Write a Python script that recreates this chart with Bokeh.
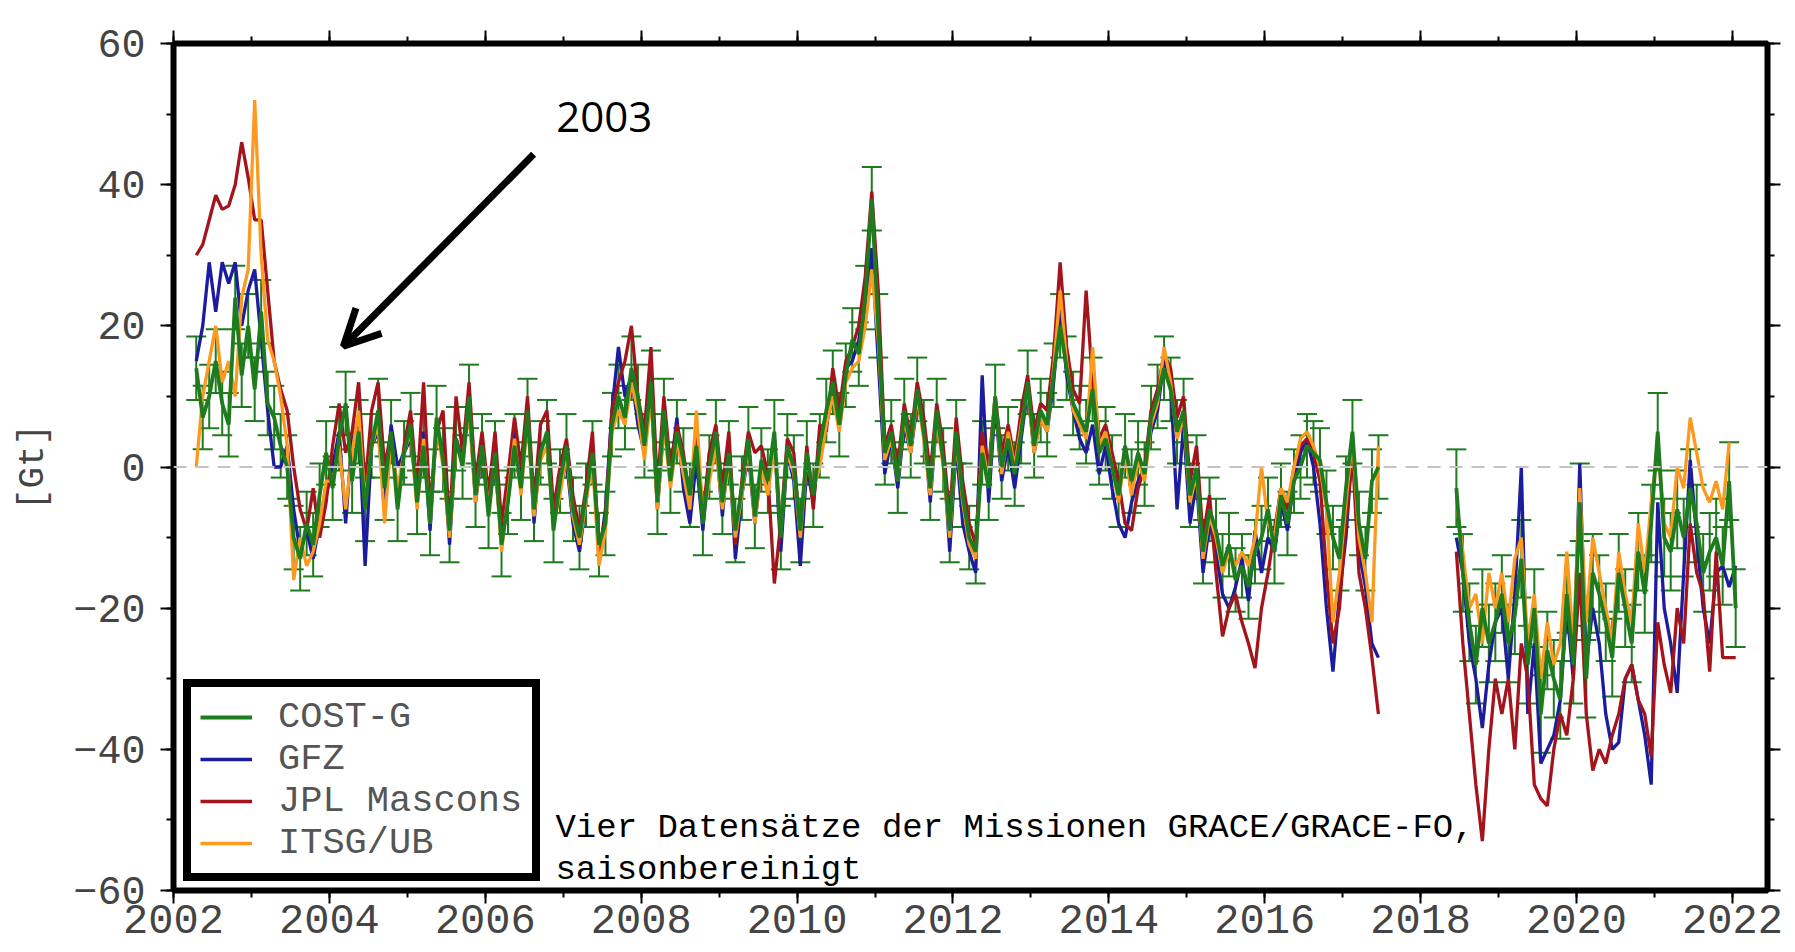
import numpy as np
from bokeh.plotting import figure
from bokeh.models import (ColumnDataSource, Whisker, TeeHead, Span, Arrow, OpenHead, Label,
                          Legend, LegendItem, SingleIntervalTicker, LinearAxis,
                          CustomJSTickFormatter, Range1d)
from bokeh.embed import file_html
from bokeh.resources import INLINE

# ---------------- data (Gt, seasonally adjusted, monthly) ----------------
# segment 1: 2002-04 .. 2017-06 (GRACE), segment 2: 2018-06 .. 2022-01 (GRACE-FO)
seg1_start, seg1_end = "2002-04", "2017-06"
seg2_start, seg2_end = "2018-06", "2022-01"
seg2_end_itsg = "2021-12"

cost_g_1 = [14, 7, 10, 15, 9, 6, 24, 13, 20,
            11, 22, 9, 7, 3, 0, -10, -13, -8, -11, -4, 2,
            -3, 4, 9, -2, 5, -6, 3, 8, -3, 5, -6, 2,
            6, -5, 3, -8, 7, 1, -9, 4, 0, 10, -4, 3,
            -7, 2, -11, -5, 3, -3, 8, -6, 2, 5, -9, -2,
            3, -6, -10, -4, 2, -11, -8, 6, 10, 7, 14, 10,
            3, 12, -5, 8, -2, 5, 1, -4, 3, -8, 0, 5,
            -5, 2, -9, -3, 4, -7, 1, -2, 5, -10, 3, 0,
            -9, 2, -4, 3, 8, 12, 6, 13, 18, 16, 24, 38,
            20, 2, 5, -2, 8, 3, 11, 5, -3, 8, 1, -9,
            5, -4, -10, -12, 2, -3, 10, 0, 4, -1, 5, 12,
            3, 8, 6, 13, 20, 14, 9, 7, 5, 11, 2, 4,
            0, -4, 3, -2, 2, -1, 7, 10, 14, 11, 5, 8,
            -4, 0, -12, -6, -9, -14, -11, -16, -14, -17, -12, -10,
            -6, -12, -4, -8, -2, 0, 3, 2, 1, -5, -10, -13,
            -3, 5, -8, -13, -2, 0]
cost_g_2 = [-3, -15, -22, -28, -20, -25, -22,
            -18, -25, -21, -13, -28, -20, -35, -26, -30, -33, -18, -28,
            -5, -30, -15, -18, -22, -27, -15, -20, -25, -12, -18, -8,
            5, -10, -12, -6, -10, -3, -8, -15, -12, -10, -14, -2,
            -20]

gfz_1 = [15, 20, 29, 22, 29, 26, 29, 20, 25,
         28, 18, 8, 0, 0, 3, -6, -12, -9, -13, -8, -4,
         0, 5, -8, 4, 7, -14, 3, 5, -5, 6, 0, 2,
         4, -4, 5, -9, 6, 2, -11, 4, 1, 9, -5, 2,
         -5, 0, -10, -3, 5, -2, 9, -8, 3, 4, -7, -3,
         1, -8, -12, -5, 3, -13, -6, 8, 17, 10, 13, 6,
         2, 11, -6, 6, -1, 7, -3, -8, 1, -9, 2, 4,
         -7, 3, -13, -4, 2, -8, 0, -3, 4, -12, 2, -2,
         -14, 0, -5, 4, 6, 10, 7, 14, 15, 18, 22, 31,
         15, -1, 4, -3, 6, 2, 9, 6, -5, 7, 2, -12,
         3, -8, -12, -15, 13, -5, 9, -2, 3, -3, 4, 11,
         2, 7, 5, 12, 23, 13, 8, 4, 2, 6, -1, 3,
         -3, -8, -10, -5, -2, 0, 5, 8, 15, 12, -6, 6,
         -8, -2, -15, -8, -12, -18, -20, -17, -13, -19, -9, -15,
         -10, -12, -5, -9, -2, 2, 4, 0, -8, -20, -29, -18,
         -10, 3, -12, -17, -25, -27]
gfz_2 = [-10, -15, -25, -30, -37, -28, -22,
         -20, -30, -18, 0, -35, -25, -42, -40, -38, -33, -20, -30,
         0.5, -28, -20, -25, -35, -40, -39, -30, -28, -33, -38, -45,
         -5, -20, -25, -32, -15, 1, -10, -20, -25, -15, -14, -17,
         -14]

jpl_1 = [30, 31.5, 35, 38.5, 36.5, 37, 40, 46, 41,
         35, 35, 25, 15, 11, 8, 0, -6, -9, -3, -10, -5,
         3, 9, 2, 5, 12, -3, 8, 12, 0, 5, -5, 3,
         8, -3, 12, -6, 5, 8, -9, 10, 2, 12, -2, 5,
         -4, 5, -8, -1, 7, 0, 10, -5, 6, 8, -6, 0,
         4, -4, -9, -3, 5, -12, -7, 8, 12, 15, 20, 10,
         5, 17, -3, 10, 0, 6, 2, -5, 5, -7, 2, 6,
         -3, 5, -11, -2, 5, 2, 3, -1, -16.5, -8, 4, 2,
         -10, 3, -6, 6, 5, 14, 8, 15, 17, 20, 27, 39,
         25, 3, 6, 0, 9, 4, 12, 7, -1, 9, 3, -7,
         7, -2, -8, -11, 5, 0, 10, 2, 6, 1, 8, 13,
         5, 9, 8, 16, 29, 17, 11, 9, 25, 12, 4, 6,
         2, -2, -8, -9, -3, 0, 8, 11, 16, 14, 7, 10,
         -2, 3, -10, -4, -15, -24, -20, -18, -22, -25, -28.5, -20,
         -15, -9, -3, -6, 0, 3, 4, 2, -2, -15, -25, -20,
         -8, 2, -15, -20, -27, -35]
jpl_2 = [-12, -25, -35, -45, -53, -40, -30,
         -35, -30, -40, -25, -30, -45, -47, -48, -40, -35, -38, -30,
         -15, -35, -43, -40, -42, -38, -35, -30, -28, -33, -35, -41,
         -22, -28, -32, -20, -25, -8, -15, -18, -29, -12, -27, -27,
         -27]

itsg_1 = [0, 10, 15, 20, 12, 15, 10, 24, 28,
          52, 30, 18, 15, 10, 3, -16, -10, -14, -12, -8, -2,
          -2, 3, -6, 2, 8, -5, 3, 6, -8, 4, -3, 2,
          5, -6, 4, -8, 6, 0, -10, 3, 1, 8, -5, 3,
          -6, 1, -12, -4, 4, -4, 7, -7, 1, 3, -8, -4,
          2, -7, -11, -5, 1, -14, -9, 5, 8, 6, 12, 8,
          1, 10, -6, 6, -3, 4, -1, -6, 8, -7, -2, 3,
          -6, 1, -10, -4, 3, -8, 0, -4, 3, -9, 2, -1,
          -10, 1, -3, 0, 6, 10, 5, 12, 14, 15, 20, 28,
          18, 1, 4, -2, 7, 2, 10, 4, -4, 7, 0, -10,
          4, -5, -11, -13, 3, -2, 10, -1, 5, 0, 6, 11,
          2, 7, 5, 14, 25, 15, 8, 6, 4, 17, 3, 5,
          0, -5, 2, -4, 1, -2, 6, 9, 17, 12, 4, 7,
          -5, -1, -13, -7, -10, -15, -12, -14, -12, -14, -10, 0,
          -8, -10, -3, -5, 0, 4, 5, 3, 0, -6, -22, -15,
          -5, 4, -10, -15, -22, 3]
itsg_2 = [-5, -12, -20, -18, -25, -15, -20,
          -15, -22, -13, -10, -25, -18, -30, -22, -28, -25, -12, -25,
          -3, -22, -10, -15, -20, -25, -12, -18, -22, -8, -15, -5,
          3, -8, -10, 0, -3, 7, 2, -3, -5, -2, -6, 3.5]

cost_g_err_1 = 4.5
cost_g_err_2 = 5.5

series_names = ["COST-G", "GFZ", "JPL Mascons", "ITSG/UB"]
series_colors = ["#1e7b1e", "#1c1c9c", "#a3141c", "#fb9a1e"]

x_ticks_major = 2
y_ticks_major = 20

annotation_lines = ["Vier Datensätze der Missionen GRACE/GRACE-FO,", "saisonbereinigt"]
arrow_label = "2003"

# ---------------- helpers ----------------
def month_axis(start, end):
    m = np.arange(np.datetime64(start), np.datetime64(end) + np.timedelta64(1, "M"),
                  np.timedelta64(1, "M")).astype(int)
    return 1970 + (m + 0.5) / 12.0

t1 = month_axis(seg1_start, seg1_end)
t2 = month_axis(seg2_start, seg2_end)
t2_itsg = month_axis(seg2_start, seg2_end_itsg)

def joined(a, b, tb):
    t = np.concatenate([t1, [np.nan], tb])
    v = np.concatenate([np.asarray(a, float), [np.nan], np.asarray(b, float)])
    return t, v

MONO = "Liberation Mono"
GRAY = "#444444"

p = figure(width=1795, height=952, output_backend="svg", toolbar_location=None,
           x_range=Range1d(2002, 2022.45), y_range=Range1d(-60, 60),
           min_border_left=173, min_border_right=28, min_border_top=43, min_border_bottom=62)
p.grid.visible = False
p.outline_line_color = "black"
p.outline_line_width = 6
p.outline_line_alpha = 1.0
p.background_fill_color = "white"
p.border_fill_color = "white"

xt = SingleIntervalTicker(interval=x_ticks_major, num_minor_ticks=2)
yt = SingleIntervalTicker(interval=y_ticks_major, num_minor_ticks=2)
yfmt = CustomJSTickFormatter(code="return tick < 0 ? '\u2212' + Math.abs(tick) : '' + tick;")
blank = CustomJSTickFormatter(code="return '';")

def style_axis(ax, font_size, standoff):
    ax.axis_line_color = None
    ax.major_tick_in = 0
    ax.minor_tick_in = 0
    ax.major_tick_out = 13
    ax.minor_tick_out = 7
    ax.major_tick_line_width = 2
    ax.minor_tick_line_width = 2
    ax.major_tick_line_color = "black"
    ax.minor_tick_line_color = "black"
    ax.major_label_text_font = MONO
    ax.major_label_text_font_size = font_size
    ax.major_label_text_color = GRAY
    ax.major_label_standoff = standoff

xa = p.xaxis[0]
xa.ticker = xt
style_axis(xa, "42px", 1)

ya = p.yaxis[0]
ya.ticker = yt
ya.formatter = yfmt
style_axis(ya, "40px", 15)
ya.axis_label = "[Gt]"
ya.axis_label_text_font = MONO
ya.axis_label_text_font_size = "36px"
ya.axis_label_text_font_style = "normal"
ya.axis_label_text_color = GRAY
ya.axis_label_standoff = 16

top = LinearAxis(ticker=xt, formatter=blank)
style_axis(top, "1px", 0)
p.add_layout(top, "above")
right = LinearAxis(ticker=yt, formatter=blank)
style_axis(right, "1px", 0)
p.add_layout(right, "right")

p.add_layout(Span(location=0, dimension="width", line_color="#c4c4c4",
                  line_width=2, line_dash="13 9"))

series = {
    "COST-G": joined(cost_g_1, cost_g_2, t2),
    "GFZ": joined(gfz_1, gfz_2, t2),
    "JPL Mascons": joined(jpl_1, jpl_2, t2),
    "ITSG/UB": joined(itsg_1, itsg_2, t2_itsg),
}
colors = dict(zip(series_names, series_colors))

renderers = {}
for name in ["GFZ", "JPL Mascons", "ITSG/UB"]:
    t, v = series[name]
    src = ColumnDataSource(dict(t=t, v=v))
    renderers[name] = p.line("t", "v", source=src, line_color=colors[name], line_width=3.3)

# COST-G with uncertainty bars
g1 = np.asarray(cost_g_1, float)
g2 = np.asarray(cost_g_2, float)
err = np.concatenate([np.full(len(g1), cost_g_err_1), np.full(len(g2), cost_g_err_2)])
gv = np.concatenate([g1, g2])
gt = np.concatenate([t1, t2])
wsrc = ColumnDataSource(dict(t=gt, lo=gv - err, up=gv + err))
p.add_layout(Whisker(source=wsrc, base="t", lower="lo", upper="up", dimension="height",
                     line_color=colors["COST-G"], line_width=2,
                     lower_head=TeeHead(size=20, line_color=colors["COST-G"], line_width=2),
                     upper_head=TeeHead(size=20, line_color=colors["COST-G"], line_width=2)))
t, v = series["COST-G"]
src = ColumnDataSource(dict(t=t, v=v))
renderers["COST-G"] = p.line("t", "v", source=src, line_color=colors["COST-G"], line_width=3.8)

legend = Legend(items=[LegendItem(label=n, renderers=[renderers[n]]) for n in series_names],
                location=(10, 9), border_line_color="black", border_line_width=8,
                border_line_alpha=1.0,
                background_fill_color="white", background_fill_alpha=1.0,
                label_text_font=MONO, label_text_font_size="37px", label_text_color="#555555",
                glyph_width=52, glyph_height=42, label_height=42, label_width=245, spacing=0,
                padding=9, margin=0, label_standoff=26)
p.add_layout(legend)

# annotations
p.add_layout(Arrow(x_start=2006.62, y_start=44.3, x_end=2004.18, y_end=17.1,
                   line_width=7, line_color="black",
                   end=OpenHead(size=36, line_width=7, line_color="black")))
p.add_layout(Label(x=2006.91, y=49.6, text=arrow_label, text_font="Open Sans",
                   text_font_size="42px", text_color="black", text_baseline="alphabetic"))
p.add_layout(Label(x=2006.90, y=-51.2, text=annotation_lines[0], text_font=MONO,
                   text_font_size="34px", text_color="black", text_baseline="alphabetic"))
p.add_layout(Label(x=2006.90, y=-57.1, text=annotation_lines[1], text_font=MONO,
                   text_font_size="34px", text_color="black", text_baseline="alphabetic"))

open("out.html", "w").write(file_html(p, INLINE))
